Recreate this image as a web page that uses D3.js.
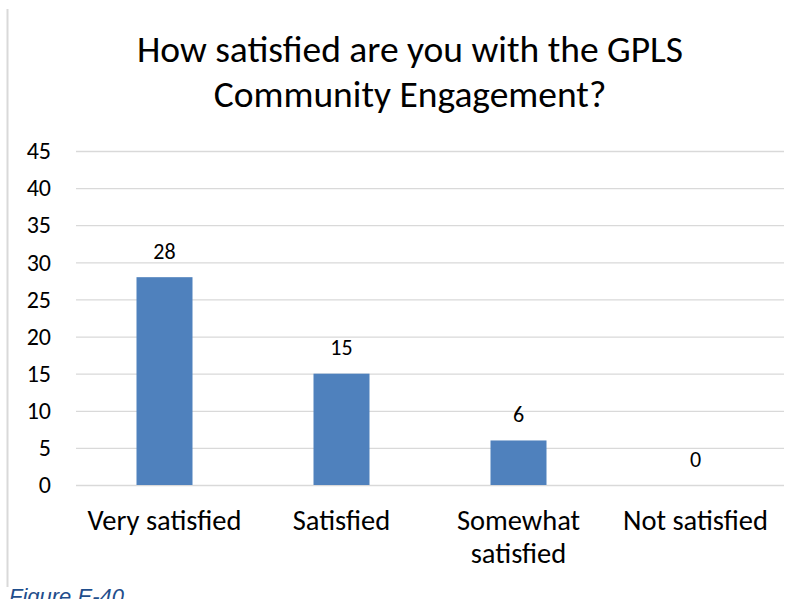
<!DOCTYPE html>
<html>
<head>
<meta charset="utf-8">
<script src="https://cdn.jsdelivr.net/npm/d3@7"></script>
<style>
  html, body { margin: 0; padding: 0; background: #fff; }
  svg { display: block; }
</style>
</head>
<body>
<svg id="chart" width="808" height="599"></svg>
<script>
const titleLines = ["How satisfied are you with the GPLS", "Community Engagement?"];
const categories = ["Very satisfied", "Satisfied", "Somewhat satisfied", "Not satisfied"];
const categoryLines = [["Very satisfied"], ["Satisfied"], ["Somewhat", "satisfied"], ["Not satisfied"]];
const values = [28, 15, 6, 0];
const yTicks = [0, 5, 10, 15, 20, 25, 30, 35, 40, 45];
const figureCaption = "Figure E-40";

const svg = d3.select("#chart");
const font = "Carlito, Calibri, Lato, 'Open Sans', sans-serif";
const plot = { left: 76, right: 784, top: 151, bottom: 485 };

const x = d3.scaleBand().domain(categories).range([plot.left, plot.right]).paddingInner(0).paddingOuter(0);
const y = d3.scaleLinear().domain([0, 45]).range([plot.bottom, plot.top]);
const barW = 56;

// left frame line
svg.append("line").attr("x1", 7.5).attr("x2", 7.5).attr("y1", 9).attr("y2", 587)
  .attr("stroke", "#d9d9d9").attr("stroke-width", 2);

// title
svg.append("text").attr("x", 410).attr("y", 62).attr("text-anchor", "middle")
  .attr("font-family", font).attr("font-size", 37.5).attr("fill", "#000")
  .selectAll("tspan").data(titleLines).join("tspan")
  .attr("x", 410).attr("dy", (d, i) => i === 0 ? 0 : 45).text(d => d);

// gridlines
const yAxis = d3.axisLeft(y).tickValues(yTicks).tickSize(-(plot.right - plot.left)).tickPadding(25);
const gy = svg.append("g").attr("transform", `translate(${plot.left},0)`).call(yAxis);
gy.select(".domain").remove();
gy.selectAll(".tick line").attr("stroke", "#d9d9d9").attr("stroke-width", 1.3);
gy.selectAll(".tick text").attr("font-family", font).attr("font-size", 24).attr("fill", "#000");

// bars
svg.append("g").selectAll("rect").data(values).join("rect")
  .attr("x", (d, i) => x(categories[i]) + x.bandwidth() / 2 - barW / 2)
  .attr("y", d => y(d))
  .attr("width", barW)
  .attr("height", d => y(0) - y(d))
  .attr("fill", "#4f81bd");

// value labels
svg.append("g").selectAll("text").data(values).join("text")
  .attr("x", (d, i) => x(categories[i]) + x.bandwidth() / 2)
  .attr("y", d => y(d) - 18.5)
  .attr("text-anchor", "middle")
  .attr("font-family", font).attr("font-size", 22).attr("fill", "#000")
  .text(d => d);

// category labels
const cat = svg.append("g").selectAll("text").data(categories).join("text")
  .attr("x", d => x(d) + x.bandwidth() / 2)
  .attr("y", 530)
  .attr("text-anchor", "middle")
  .attr("font-family", font).attr("font-size", 28.5).attr("fill", "#000");
cat.each(function(d, i) {
  d3.select(this).selectAll("tspan").data(categoryLines[i]).join("tspan")
    .attr("x", x(d) + x.bandwidth() / 2)
    .attr("dy", (t, j) => j === 0 ? 0 : 33)
    .text(t => t);
});

// caption
svg.append("text").attr("x", 9).attr("y", 604)
  .attr("font-family", "Liberation Sans, Arial, sans-serif").attr("font-style", "italic")
  .attr("font-size", 22).attr("fill", "#1f4e8c").text(figureCaption);
</script>
</body>
</html>
